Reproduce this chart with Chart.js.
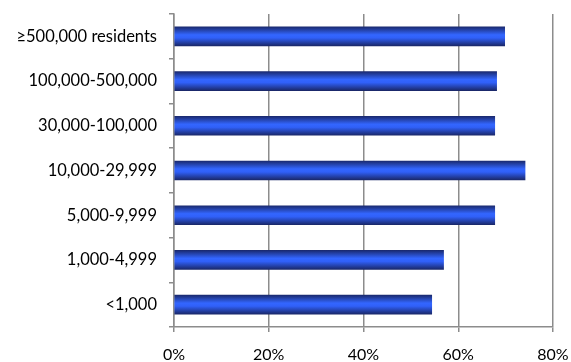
<!DOCTYPE html>
<html>
<head>
<meta charset="utf-8">
<script src="https://cdn.jsdelivr.net/npm/chart.js@4"></script>
<style>
  html, body { margin: 0; padding: 0; background: #fff; }
  #wrap { width: 571px; height: 362px; position: relative; }
</style>
</head>
<body>
<div id="wrap"><canvas id="chart"></canvas></div>
<script>
const categories = ['≥500,000 residents', '100,000-500,000', '30,000-100,000', '10,000-29,999', '5,000-9,999', '1,000-4,999', '<1,000'];
const shareValues = [69.8, 68.1, 67.7, 74.1, 67.7, 56.9, 54.4];
const xTicks = [0, 20, 40, 60, 80];

const BAR_PX = 19;
const gridGrey = '#8c8c8c';

// vertical "cylinder" shading for each bar
const barFill = (ctx) => {
    const chart = ctx.chart;
    const yScale = chart.scales.y;
    if (!yScale || ctx.type !== 'data') return '#2f5ff0';
    const mid = yScale.getPixelForValue(ctx.dataIndex);
    if (!isFinite(mid)) return '#2f5ff0';
    const g = chart.ctx.createLinearGradient(0, mid - BAR_PX / 2, 0, mid + BAR_PX / 2);
    g.addColorStop(0, '#1a2a70');
    g.addColorStop(0.42, '#3366ff');
    g.addColorStop(0.58, '#3060f8');
    g.addColorStop(1, '#1a286a');
    return g;
};

// drop the label overflow padding chart.js adds, layout padding sets the plot box
const noPad = (axis) => {
    axis.paddingTop = 0;
    axis.paddingBottom = 0;
    axis.paddingLeft = 0;
    axis.paddingRight = 0;
};

const chartConfig = {
    type: 'bar',
    data: {
        labels: categories,
        datasets: [{
            data: shareValues,
            backgroundColor: barFill,
            borderWidth: 0,
            barThickness: BAR_PX
        }]
    },
    options: {
        responsive: true,
        maintainAspectRatio: false,
        animation: false,
        indexAxis: 'y',
        layout: { padding: { top: 14, right: 18, left: 0, bottom: 0 } },
        plugins: {
            legend: { display: false },
            tooltip: { enabled: false }
        },
        scales: {
            x: {
                min: 0,
                max: 80,
                afterBuildTicks: (axis) => { axis.ticks = xTicks.map(v => ({ value: v })); },
                afterFit: (axis) => { axis.height = 35; noPad(axis); },
                grid: { color: gridGrey, lineWidth: 1.5, tickLength: 5, tickColor: gridGrey },
                border: { color: gridGrey, width: 1.5 },
                ticks: {
                    color: '#000',
                    padding: 13,
                    font: { family: 'Lato', size: 16 },
                    callback: (value) => value + '%'
                }
            },
            y: {
                afterFit: (axis) => { axis.width = 174; noPad(axis); },
                grid: { drawOnChartArea: false, color: gridGrey, lineWidth: 1.5, tickLength: 5 },
                border: { color: gridGrey, width: 1.5 },
                ticks: {
                    color: '#000',
                    padding: 12,
                    font: { family: 'Lato', size: 16.5 }
                }
            }
        }
    }
};

new Chart(document.getElementById('chart'), chartConfig);
</script>
</body>
</html>
